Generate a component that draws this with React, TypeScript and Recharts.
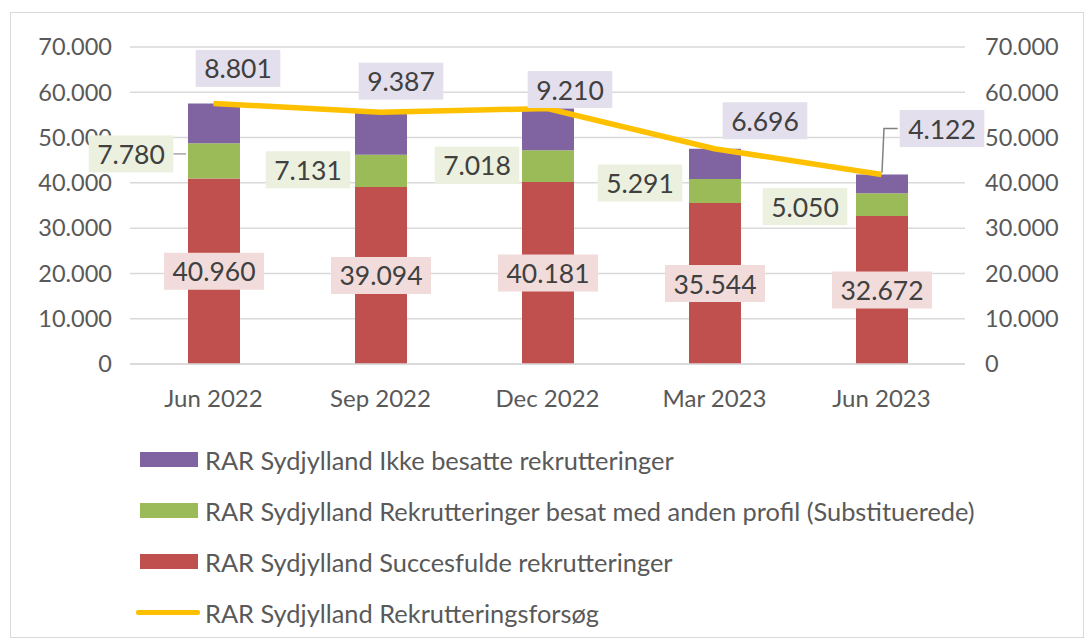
import React from "react";
import {
    ComposedChart,
    Bar,
    Line,
    XAxis,
    YAxis,
    CartesianGrid,
    LabelList,
} from "recharts";

const categories = ["Jun 2022", "Sep 2022", "Dec 2022", "Mar 2023", "Jun 2023"];
const succesfulde = [40960, 39094, 40181, 35544, 32672];
const substituerede = [7780, 7131, 7018, 5291, 5050];
const ikkeBesatte = [8801, 9387, 9210, 6696, 4122];
const rekrutteringsforsoeg = [57541, 55612, 56409, 47531, 41844];
const yTicks = [0, 10000, 20000, 30000, 40000, 50000, 60000, 70000];

const seriesNames = {
    ikke: "RAR Sydjylland Ikke besatte rekrutteringer",
    subst: "RAR Sydjylland Rekrutteringer besat med anden profil (Substituerede)",
    succes: "RAR Sydjylland Succesfulde rekrutteringer",
    forsoeg: "RAR Sydjylland Rekrutteringsforsøg",
};

const data = categories.map((name, i) => ({
    name,
    succes: succesfulde[i],
    subst: substituerede[i],
    ikke: ikkeBesatte[i],
    forsoeg: rekrutteringsforsoeg[i],
}));

// label placement (dragged labels in the original)
const greenOffsets = [
    { dx: -83, dy: -7 },
    { dx: -73, dy: -1 },
    { dx: -71, dy: -1 },
    { dx: -75, dy: -8 },
    { dx: -77, dy: 2 },
];
const purpleOffsets = [
    { dx: 24, dy: -35 },
    { dx: 20, dy: -31 },
    { dx: 22, dy: -19 },
    { dx: 50, dy: -28 },
    { dx: 60, dy: -46 },
];

const FONT = "Lato, 'Open Sans', sans-serif";
const TEXT = "#595959";
const LABEL_TEXT = "#404040";
const RED = "#c0504d";
const GREEN = "#9bbb59";
const PURPLE = "#8064a2";
const YELLOW = "#ffc000";

const fmt = (v: number) => String(v).replace(/\B(?=(\d{3})+(?!\d))/g, ".");

const textWidth = (s: string, f: number) =>
    s.split("").reduce((w, c) => w + (c === "." ? 0.27 : 0.58) * f, 0);

const makeLabel = (kind: "red" | "green" | "purple") => (props: any) => {
    const vb = props.viewBox || props;
    const x = Number(vb.x ?? props.x);
    const width = Number(vb.width ?? props.width);
    let y = Number(vb.y ?? props.y);
    let height = Number(vb.height ?? props.height);
    if (height < 0) {
        y = y + height;
        height = -height;
    }
    const index = props.index;
    const text = fmt(Number(props.value));
    const fontSize = 26.5;
    const bw = textWidth(text, fontSize) + 16;
    const bh = 37;
    const cx = x + width / 2;
    let lx = cx;
    let ly = y + height / 2;
    let bg = "#f2dcdb";
    if (kind === "green") {
        lx = cx + greenOffsets[index].dx;
        ly = y + height / 2 + greenOffsets[index].dy;
        bg = "#ebf1de";
    } else if (kind === "purple") {
        lx = cx + purpleOffsets[index].dx;
        ly = y + purpleOffsets[index].dy;
        bg = "#e4dfec";
    }
    let leader = null;
    if (kind === "green" && index === 0) {
        leader = (
            <line x1={lx + bw / 2} y1={ly} x2={x - 2} y2={ly} stroke="#a6a6a6" strokeWidth={1.5} />
        );
    }
    if (kind === "purple" && index === 4) {
        leader = (
            <polyline
                points={`${cx},${y - 2} ${cx + 2},${ly} ${lx - bw / 2 - 2},${ly}`}
                fill="none"
                stroke="#808080"
                strokeWidth={1.5}
            />
        );
    }
    return (
        <g>
            {leader}
            <rect x={lx - bw / 2} y={ly - bh / 2} width={bw} height={bh} fill={bg} />
            <text
                x={lx}
                y={ly}
                textAnchor="middle"
                dominantBaseline="central"
                fontSize={fontSize}
                fontFamily={FONT}
                fill={LABEL_TEXT}
            >
                {text}
            </text>
        </g>
    );
};

const legendItems = [
    { name: seriesNames.ikke, color: PURPLE, type: "rect" },
    { name: seriesNames.subst, color: GREEN, type: "rect" },
    { name: seriesNames.succes, color: RED, type: "rect" },
    { name: seriesNames.forsoeg, color: YELLOW, type: "line" },
];

const ChartLegend = () => (
    <div style={{ position: "absolute", left: 136, top: 434, fontFamily: FONT }}>
        {legendItems.map((item) => (
            <div
                key={item.name}
                style={{ display: "flex", alignItems: "center", height: 51, fontSize: 25.4, color: TEXT, whiteSpace: "nowrap" }}
            >
                {item.type === "rect" ? (
                    <span
                        style={{ display: "inline-block", width: 58, height: 15, marginLeft: 4, marginRight: 7, background: item.color }}
                    />
                ) : (
                    <span
                        style={{ display: "inline-block", width: 64, height: 5, marginRight: 5, background: item.color, borderRadius: 2 }}
                    />
                )}
                <span>{item.name}</span>
            </div>
        ))}
    </div>
);

export default function App() {
    return (
        <div
            style={{
                position: "absolute",
                left: 0,
                top: 0,
                width: 1090,
                height: 644,
                background: "#ffffff",
                overflow: "hidden",
            }}
        >
            <div
                style={{
                    position: "absolute",
                    left: 10,
                    top: 12,
                    width: 1072,
                    height: 624,
                    border: "1px solid #d9d9d9",
                }}
            />
            <div style={{ position: "absolute", left: 0, top: 0 }}>
                <ComposedChart
                    width={1090}
                    height={430}
                    data={data}
                    margin={{ top: 47, right: 0, bottom: 0, left: 0 }}
                >
                    <CartesianGrid yAxisId="left" vertical={false} stroke="#d9d9d9" strokeWidth={1.5} />
                    <XAxis
                        dataKey="name"
                        height={66}
                        tickLine={false}
                        axisLine={{ stroke: "#d9d9d9", strokeWidth: 1.5 }}
                        tickSize={0}
                        tickMargin={26}
                        tick={{ fontSize: 24, fill: TEXT, fontFamily: FONT }}
                    />
                    <YAxis
                        yAxisId="left"
                        width={130}
                        domain={[0, 70000]}
                        ticks={yTicks}
                        tickFormatter={fmt}
                        tickLine={false}
                        axisLine={false}
                        tickSize={0}
                        tickMargin={18}
                        tick={{ fontSize: 23.5, fill: TEXT, fontFamily: FONT }}
                    />
                    <YAxis
                        yAxisId="right"
                        orientation="right"
                        width={125}
                        domain={[0, 70000]}
                        ticks={yTicks}
                        tickFormatter={fmt}
                        tickLine={false}
                        axisLine={false}
                        tickSize={0}
                        tickMargin={20}
                        tick={{ fontSize: 23.5, fill: TEXT, fontFamily: FONT }}
                    />
                    <Bar yAxisId="left" dataKey="succes" name={seriesNames.succes} stackId="a" fill={RED} barSize={52} isAnimationActive={false}>
                        <LabelList dataKey="succes" content={makeLabel("red")} />
                    </Bar>
                    <Bar yAxisId="left" dataKey="subst" name={seriesNames.subst} stackId="a" fill={GREEN} barSize={52} isAnimationActive={false}>
                        <LabelList dataKey="subst" content={makeLabel("green")} />
                    </Bar>
                    <Bar yAxisId="left" dataKey="ikke" name={seriesNames.ikke} stackId="a" fill={PURPLE} barSize={52} isAnimationActive={false}>
                        <LabelList dataKey="ikke" content={makeLabel("purple")} />
                    </Bar>
                    <Line
                        yAxisId="right"
                        type="linear"
                        dataKey="forsoeg"
                        name={seriesNames.forsoeg}
                        stroke={YELLOW}
                        strokeWidth={5.5}
                        dot={false}
                        activeDot={false}
                        isAnimationActive={false}
                    />
                </ComposedChart>
            </div>
            <ChartLegend />
        </div>
    );
}
